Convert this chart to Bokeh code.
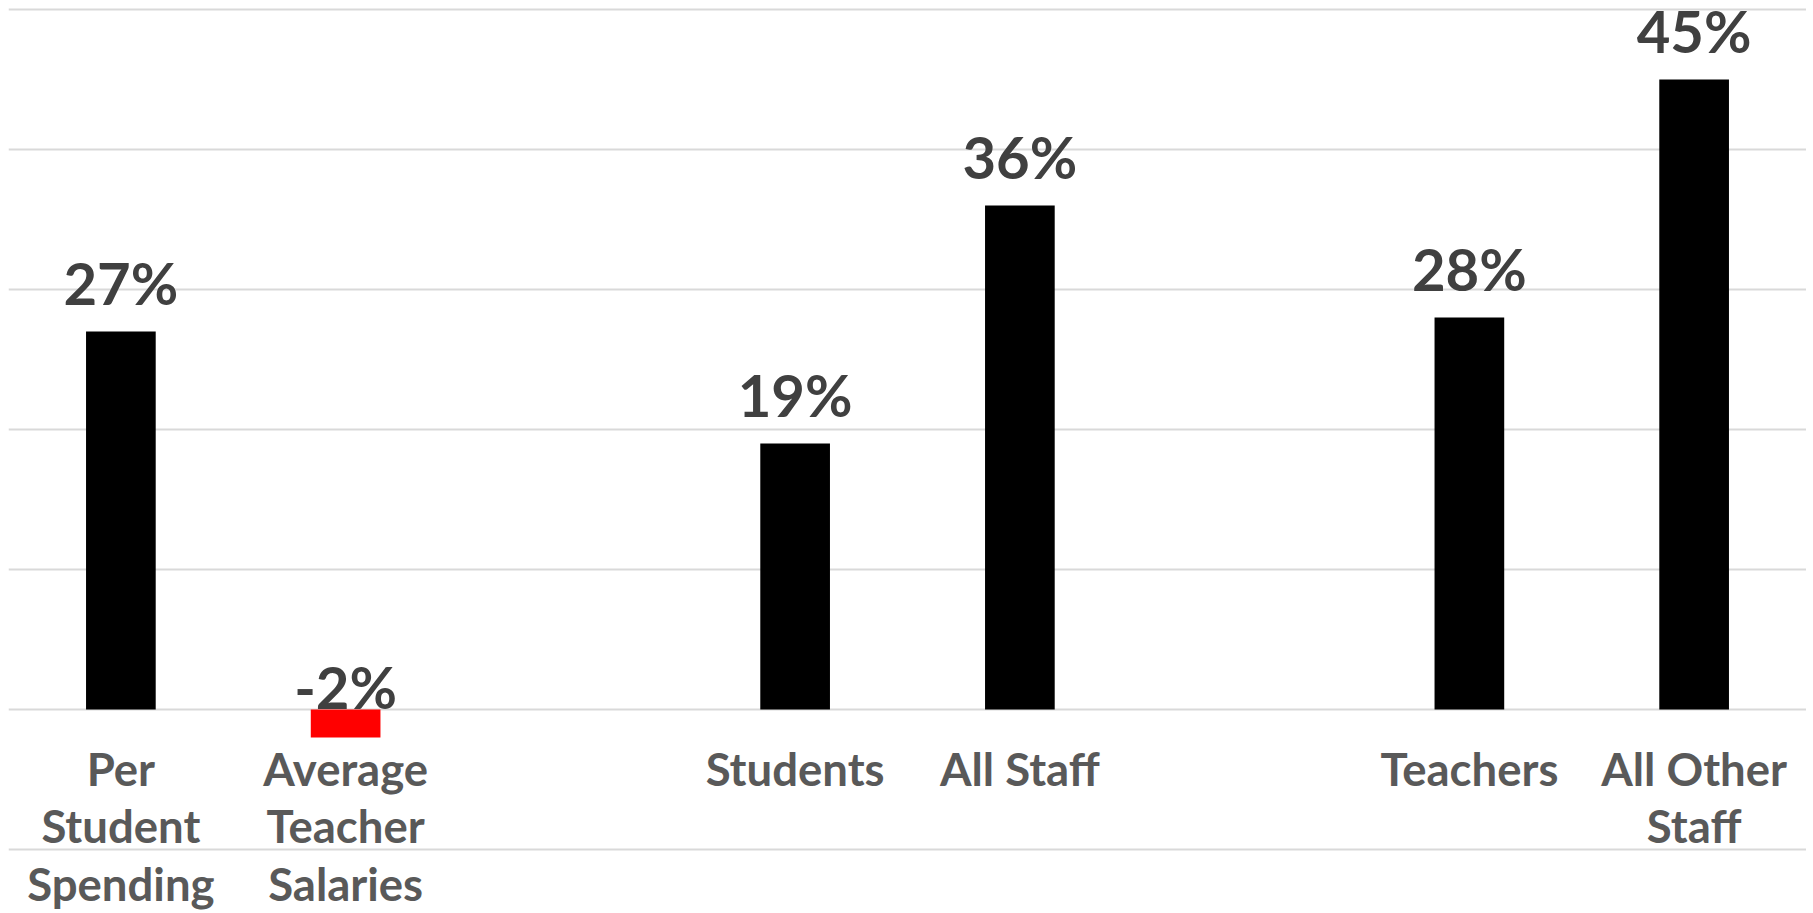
from bokeh.plotting import figure
from bokeh.models import FactorRange, Range1d, FixedTicker, ColumnDataSource
from bokeh.core.properties import value
from bokeh.embed import file_html
from bokeh.resources import INLINE

# ---- data ----
slots = ["Per\nStudent\nSpending", "Average\nTeacher\nSalaries", " ",
         "Students", "All Staff", "  ",
         "Teachers", "All Other\nStaff"]
categories = ["Per\nStudent\nSpending", "Average\nTeacher\nSalaries",
              "Students", "All Staff", "Teachers", "All Other\nStaff"]
values = [27, -2, 19, 36, 28, 45]
bar_colors = ["#000000", "#ff0000", "#000000", "#000000", "#000000", "#000000"]
value_labels = ["27%", "-2%", "19%", "36%", "28%", "45%"]
grid_ticks = [-10, 0, 10, 20, 30, 40, 50]

FONT = "Lato"

p = figure(width=1806, height=912, x_range=FactorRange(factors=slots, range_padding=0),
           y_range=Range1d(-14.5, 50.64), output_backend="svg", toolbar_location=None,
           min_border=0, min_border_left=8, min_border_right=0, min_border_top=0, min_border_bottom=0)
p.outline_line_color = None
p.background_fill_color = "white"
p.border_fill_color = "white"
p.xaxis.visible = False
p.yaxis.visible = False
p.xgrid.grid_line_color = None
p.ygrid.ticker = FixedTicker(ticks=grid_ticks)
p.ygrid.grid_line_color = "#d9d9d9"
p.ygrid.grid_line_width = 2

src = ColumnDataSource(dict(x=categories, top=values, color=bar_colors))
p.vbar(x="x", top="top", bottom=0, width=0.31, fill_color="color", line_color=None, source=src)

# value labels
lab_y = [v if v > 0 else 0 for v in values]
lab_off = [-49 if v > 0 else -23 for v in values]
p.text(x=categories, y=lab_y, text=value_labels, y_offset=lab_off,
       text_font=value(FONT), text_font_style="bold", text_font_size="58px",
       text_color="#404040", text_align="center", text_baseline="alphabetic")

# category labels (line by line)
cx, cy, ct, co = [], [], [], []
for c in categories:
    for i, line in enumerate(c.split("\n")):
        cx.append(c); cy.append(0); ct.append(line); co.append(59 + 57.5 * i)
p.text(x=cx, y=cy, text=ct, y_offset=co,
       text_font=value(FONT), text_font_style="bold", text_font_size="45.5px",
       text_color="#595959", text_align="center", text_baseline="alphabetic")

open("out.html", "w").write(file_html(p, INLINE))
